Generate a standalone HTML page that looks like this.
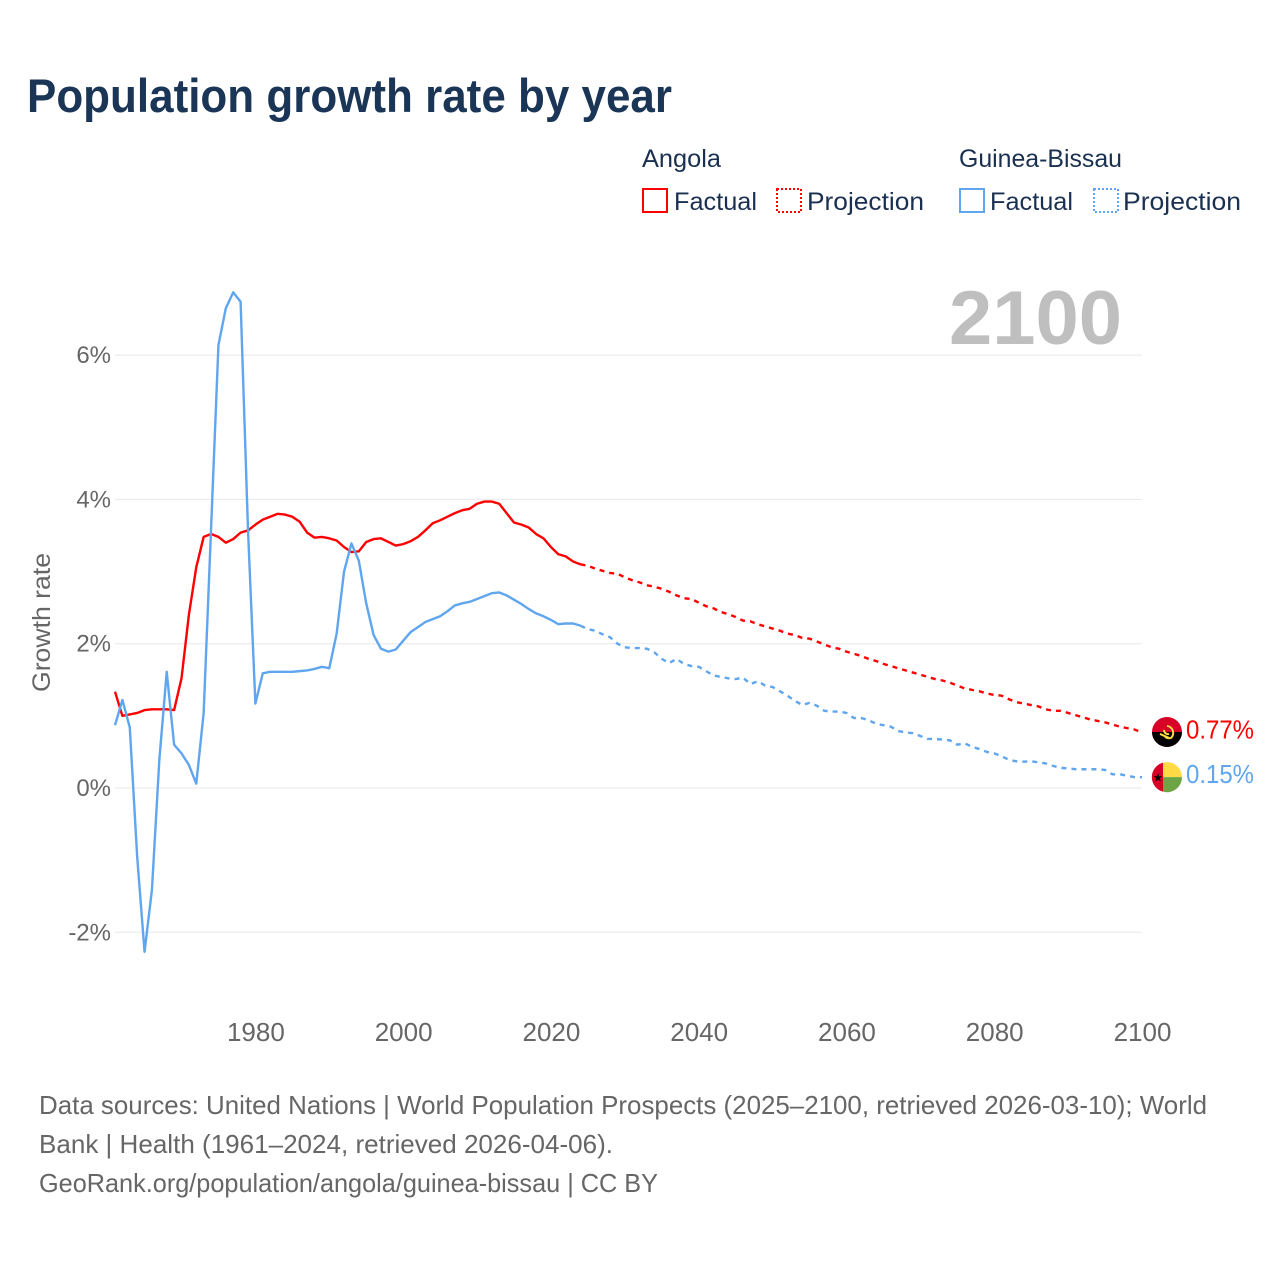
<!DOCTYPE html>
<html lang="en">
<head>
<meta charset="utf-8">
<title>Population growth rate by year</title>
<style>
html,body{margin:0;padding:0;background:#fff;width:1280px;height:1280px;overflow:hidden}
svg{display:block;font-family:"Liberation Sans",sans-serif}
</style>
</head>
<body>
<svg id="chart" xmlns="http://www.w3.org/2000/svg" width="1280" height="1280" viewBox="0 0 1280 1280">
  <text x="27" y="112" font-size="47" font-weight="700" fill="#1a3555" textLength="645" lengthAdjust="spacingAndGlyphs">Population growth rate by year</text>

  <g font-size="25" fill="#1a3050">
    <text x="642" y="167" textLength="79" lengthAdjust="spacingAndGlyphs">Angola</text>
    <text x="959" y="167" textLength="163" lengthAdjust="spacingAndGlyphs">Guinea-Bissau</text>
    <rect x="643" y="189" width="24" height="23" fill="none" stroke="#ff0000" stroke-width="2"/>
    <text x="674" y="210" textLength="83" lengthAdjust="spacingAndGlyphs">Factual</text>
    <rect x="777" y="189" width="24" height="23" fill="none" stroke="#ff0000" stroke-width="2" stroke-dasharray="2 2"/>
    <text x="807" y="210" textLength="117" lengthAdjust="spacingAndGlyphs">Projection</text>
    <rect x="960" y="189" width="24" height="23" fill="none" stroke="#5fa6ef" stroke-width="2"/>
    <text x="990" y="210" textLength="83" lengthAdjust="spacingAndGlyphs">Factual</text>
    <rect x="1094" y="189" width="24" height="23" fill="none" stroke="#5fa6ef" stroke-width="2" stroke-dasharray="2 2"/>
    <text x="1123" y="210" textLength="118" lengthAdjust="spacingAndGlyphs">Projection</text>
  </g>

  <g id="grid"></g>
  <g id="y-ticks"></g>
  <g id="x-ticks"></g>

  <text x="949" y="344" font-size="76" font-weight="700" fill="#bfbfbf" textLength="173" lengthAdjust="spacingAndGlyphs">2100</text>
  <text transform="translate(50,692) rotate(-90)" font-size="25" fill="#666666" textLength="139" lengthAdjust="spacingAndGlyphs">Growth rate</text>

  <g id="series"></g>

  <g id="flag-angola">
    <circle cx="0" cy="0" r="15" fill="#d80027"/>
    <path d="M-15 0A15 15 0 0 0 15 0Z" fill="#000000"/>
    <path d="M0-6A7 7 0 0 1 4 6A7 7 0 0 1-2 5M-7 2L2 6M-3-2A4 4 0 0 0 2 2" fill="none" stroke="#ffda44" stroke-width="2"/>
  </g>
  <g id="flag-guinea-bissau">
    <path d="M-4-14.5A15 15 0 0 1 15 0L-4 0Z" fill="#ffda44"/>
    <path d="M-4 14.5A15 15 0 0 0 15 0L-4 0Z" fill="#6da544"/>
    <path d="M-4-14.5A15 15 0 0 0-4 14.5Z" fill="#d80027"/>
    <path d="M-9-4L-7.9-.9-4.6-.9-7.3 1.1-6.3 4.3-9 2.4-11.7 4.3-10.7 1.1-13.4-.9-10.1-.9Z" fill="#000000"/>
  </g>
  <text id="end-label-angola" x="1186" font-size="26" fill="#ff0000" textLength="68" lengthAdjust="spacingAndGlyphs"></text>
  <text id="end-label-gb" x="1186" font-size="26" fill="#5fa6ef" textLength="68" lengthAdjust="spacingAndGlyphs"></text>

  <g font-size="26" fill="#666666">
    <text x="39" y="1114" textLength="1168" lengthAdjust="spacingAndGlyphs">Data sources: United Nations | World Population Prospects (2025–2100, retrieved 2026-03-10); World</text>
    <text x="39" y="1153" textLength="574" lengthAdjust="spacingAndGlyphs">Bank | Health (1961–2024, retrieved 2026-04-06).</text>
    <text x="39" y="1192" textLength="619" lengthAdjust="spacingAndGlyphs">GeoRank.org/population/angola/guinea-bissau | CC BY</text>
  </g>
</svg>
<script>
const years = [
1961,1962,1963,1964,1965,1966,1967,1968,1969,1970,
1971,1972,1973,1974,1975,1976,1977,1978,1979,1980,
1981,1982,1983,1984,1985,1986,1987,1988,1989,1990,
1991,1992,1993,1994,1995,1996,1997,1998,1999,2000,
2001,2002,2003,2004,2005,2006,2007,2008,2009,2010,
2011,2012,2013,2014,2015,2016,2017,2018,2019,2020,
2021,2022,2023,2024,2025,2026,2027,2028,2029,2030,
2031,2032,2033,2034,2035,2036,2037,2038,2039,2040,
2041,2042,2043,2044,2045,2046,2047,2048,2049,2050,
2051,2052,2053,2054,2055,2056,2057,2058,2059,2060,
2061,2062,2063,2064,2065,2066,2067,2068,2069,2070,
2071,2072,2073,2074,2075,2076,2077,2078,2079,2080,
2081,2082,2083,2084,2085,2086,2087,2088,2089,2090,
2091,2092,2093,2094,2095,2096,2097,2098,2099,2100];
const angolaValues = [
1.335,1.00,1.02,1.04,1.08,1.09,1.09,1.09,1.08,1.52,
2.40,3.06,3.48,3.52,3.48,3.40,3.45,3.54,3.57,3.65,
3.72,3.76,3.80,3.79,3.76,3.69,3.54,3.47,3.48,3.46,
3.43,3.34,3.27,3.28,3.41,3.45,3.46,3.41,3.36,3.38,
3.42,3.48,3.57,3.67,3.71,3.76,3.81,3.85,3.87,3.94,
3.97,3.97,3.94,3.81,3.68,3.65,3.61,3.52,3.46,3.34,
3.24,3.21,3.14,3.10,3.08,3.04,3.01,2.98,2.97,2.92,
2.88,2.85,2.81,2.79,2.76,2.72,2.67,2.63,2.62,2.57,
2.52,2.49,2.44,2.41,2.37,2.32,2.31,2.27,2.24,2.21,
2.18,2.14,2.12,2.08,2.07,2.03,1.99,1.95,1.93,1.89,
1.86,1.83,1.79,1.76,1.72,1.69,1.66,1.63,1.60,1.57,
1.54,1.51,1.49,1.46,1.42,1.38,1.36,1.34,1.31,1.29,
1.28,1.23,1.19,1.17,1.15,1.13,1.09,1.07,1.07,1.04,
1.01,0.98,0.95,0.93,0.91,0.88,0.85,0.83,0.81,0.77];
const guineaBissauValues = [
0.87,1.22,0.84,-0.95,-2.27,-1.41,0.39,1.61,0.60,0.48,
0.32,0.06,1.04,3.59,6.14,6.65,6.87,6.74,3.58,1.17,
1.59,1.61,1.61,1.61,1.61,1.62,1.63,1.65,1.68,1.66,
2.14,3.00,3.39,3.15,2.56,2.12,1.93,1.89,1.92,2.04,
2.16,2.23,2.30,2.34,2.38,2.45,2.53,2.56,2.58,2.62,
2.66,2.70,2.71,2.67,2.61,2.55,2.48,2.42,2.38,2.33,
2.27,2.28,2.28,2.25,2.20,2.18,2.13,2.09,2.00,1.95,
1.94,1.94,1.93,1.88,1.79,1.73,1.79,1.72,1.69,1.68,
1.62,1.56,1.54,1.52,1.51,1.53,1.44,1.48,1.42,1.40,
1.34,1.28,1.21,1.15,1.18,1.14,1.07,1.06,1.06,1.04,
0.97,0.97,0.94,0.89,0.87,0.85,0.79,0.77,0.76,0.72,
0.68,0.68,0.67,0.66,0.60,0.62,0.57,0.54,0.50,0.48,
0.44,0.39,0.37,0.365,0.37,0.355,0.34,0.305,0.28,0.27,
0.26,0.26,0.26,0.26,0.25,0.19,0.19,0.17,0.15,0.15];
const lastFactualYear = 2024;
const xTickYears = [1980,2000,2020,2040,2060,2080,2100];
const yTickValues = [-2,0,2,4,6];

const SVG_NS = 'http://www.w3.org/2000/svg';
const xScale = function (year) { return 115 + (year - 1961) * (1027 / 139); };
const yScale = function (value) { return 788 - value * 72.15; };

function pathFor(values, fromYear, toYear) {
  let d = '';
  years.forEach(function (year, i) {
    if (year < fromYear || year > toYear) return;
    d += (d ? 'L' : 'M') + xScale(year).toFixed(2) + ' ' + yScale(values[i]).toFixed(2);
  });
  return d;
}

const grid = document.getElementById('grid');
const yTicks = document.getElementById('y-ticks');
yTickValues.forEach(function (value) {
  const line = document.createElementNS(SVG_NS, 'line');
  
  
  line.setAttribute('x1', xScale(1961));
  line.setAttribute('x2', xScale(2100));
  line.setAttribute('y1', yScale(value));
  line.setAttribute('y2', yScale(value));
  line.setAttribute('stroke', '#e8e8e8');
  line.setAttribute('stroke-width', '1');
  grid.appendChild(line);
  const label = document.createElementNS(SVG_NS, 'text');
  
  
  label.setAttribute('x', 111);
  label.setAttribute('y', yScale(value) + 8);
  label.setAttribute('text-anchor', 'end');
  label.setAttribute('font-size', '24');
  label.setAttribute('fill', '#666666');
  label.textContent = value + '%';
  yTicks.appendChild(label);
});

const xTicks = document.getElementById('x-ticks');
xTickYears.forEach(function (year) {
  const label = document.createElementNS(SVG_NS, 'text');
  
  
  label.setAttribute('x', xScale(year) + 0.5);
  label.setAttribute('y', 1041);
  label.setAttribute('text-anchor', 'middle');
  label.setAttribute('font-size', '26');
  label.setAttribute('fill', '#666666');
  label.textContent = year;
  xTicks.appendChild(label);
});

const seriesGroup = document.getElementById('series');
function addLine(name, values, color, fromYear, toYear, dash) {
  const path = document.createElementNS(SVG_NS, 'path');
  
  
  path.setAttribute('d', pathFor(values, fromYear, toYear));
  path.setAttribute('fill', 'none');
  path.setAttribute('stroke', color);
  path.setAttribute('stroke-width', '2.4');
  path.setAttribute('stroke-linejoin', 'round');
  if (dash) path.setAttribute('stroke-dasharray', dash);
  seriesGroup.appendChild(path);
}
addLine('angola-factual-line', angolaValues, '#ff0000', 1961, lastFactualYear, '');
addLine('angola-projection-line', angolaValues, '#ff0000', lastFactualYear, 2100, '5 5');
addLine('guinea-bissau-factual-line', guineaBissauValues, '#5fa6ef', 1961, lastFactualYear, '');
addLine('guinea-bissau-projection-line', guineaBissauValues, '#5fa6ef', lastFactualYear, 2100, '5 5');

const lastAngola = angolaValues[angolaValues.length - 1];
const lastGuineaBissau = guineaBissauValues[guineaBissauValues.length - 1];
document.getElementById('flag-angola').setAttribute('transform', 'translate(1167,' + (yScale(lastAngola) - 0.5) + ')');
document.getElementById('flag-guinea-bissau').setAttribute('transform', 'translate(1167,' + yScale(lastGuineaBissau) + ')');
const endAngola = document.getElementById('end-label-angola');
endAngola.setAttribute('y', yScale(lastAngola) + 6);
endAngola.textContent = lastAngola.toFixed(2) + '%';
const endGb = document.getElementById('end-label-gb');
endGb.setAttribute('y', yScale(lastGuineaBissau) + 6);
endGb.textContent = lastGuineaBissau.toFixed(2) + '%';
</script>
</body>
</html>
